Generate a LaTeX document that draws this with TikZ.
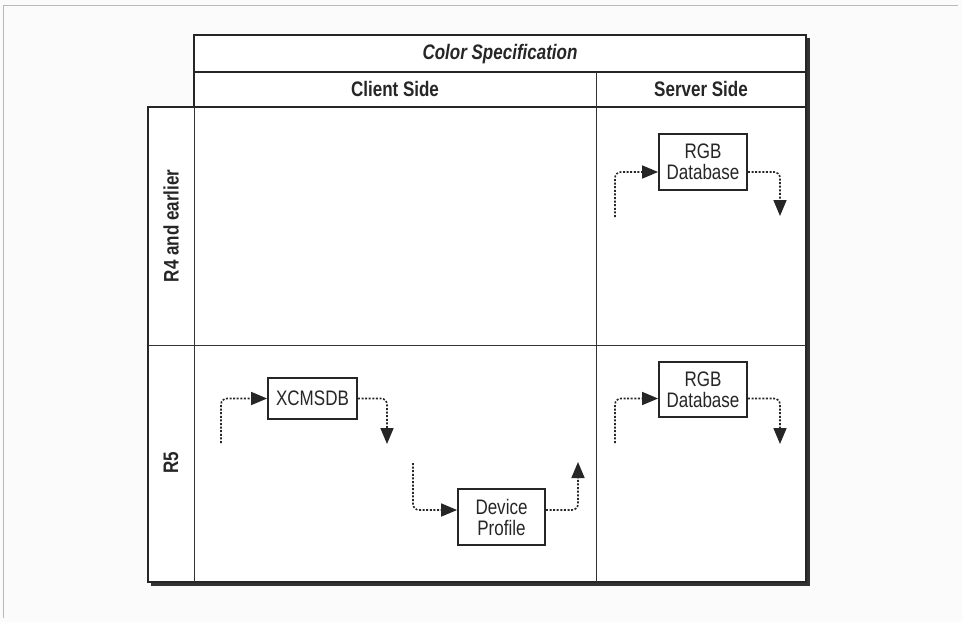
\documentclass[tikz,border=0pt]{standalone}
\usepackage{fontspec}
\setmainfont{Liberation Sans}[FakeStretch=0.81]
\usetikzlibrary{arrows.meta,calc}
\begin{document}
\begin{tikzpicture}[x=1pt,y=-1pt,
  tframe/.style={line width=2pt, black!85},
  tline/.style={line width=0.9pt, black!80},
  hline/.style={line width=1.8pt, black!85},
  flow/.style={line width=1.6pt, black!85, dash pattern=on 2pt off 1.6pt, rounded corners=6pt, -{Triangle[length=16pt,width=13pt]}},
  box/.style={draw=black!85, line width=1.8pt, fill=white, align=center, inner sep=0pt, font=\fontsize{21}{21}\selectfont, text=black!85},
  hdr/.style={font=\bfseries\fontsize{21}{22}\selectfont, text=black!85},
  ihdr/.style={font=\bfseries\itshape\fontsize{21}{22}\selectfont, text=black!85}
]
\fill[gray!3] (0,0) rectangle (962,622);
\useasboundingbox (0,0) rectangle (962,622);
\draw[gray!55, line width=0.7pt] (3,618) -- (3,5) -- (958,5);

% table body
\fill[white] (194,35) rectangle (806,582);
\fill[white] (148,107) rectangle (194,582);
% shadow
\draw[line width=3.5pt, black!80] (808.5,38) -- (808.5,584.5) -- (151,584.5);
% outline
\draw[tframe] (194,35) -- (806,35) -- (806,582) -- (148,582) -- (148,107) -- (194,107) -- cycle;
% header separators
\draw[hline] (194,72) -- (806,72);
\draw[hline] (194,107) -- (806,107);
% inner lines
\draw[tline] (596,72) -- (596,582);
\draw[tline] (194,107) -- (194,582);
\draw[tline] (148,345) -- (806,345);

% header texts
\node[ihdr] (cs) at (500,54) {Color Specification};
\node[hdr] (client) at (395,89) {Client Side};
\node[hdr] (server) at (701,89) {Server Side};
\node[hdr, rotate=90] (r4) at (171,226) {R4 and earlier};
\node[hdr, rotate=90] (r5) at (171,463) {R5};

% boxes
\node[box, minimum width=88pt, minimum height=56pt] (rgb1) at (703,162) {RGB\\Database};
\node[box, minimum width=88pt, minimum height=55pt] (rgb2) at (703,389.5) {RGB\\Database};
\node[box, minimum width=89pt, minimum height=41pt] (xcms) at (312.5,398.5) {XCMSDB};
\node[box, minimum width=87pt, minimum height=56pt] (dev) at (501.5,517) {Device\\Profile};

% connector ends
\coordinate (r1s) at (615,217);
\coordinate (r1e) at (780,216);
\coordinate (r2s) at (615,443);
\coordinate (r2e) at (780,444);
\coordinate (xs) at (221,443);
\coordinate (xe) at (387,444);
\coordinate (ds) at (413,463);
\coordinate (de) at (578,462);

\draw[flow] (r1s) |- ($(rgb1.west)+(0,10)$);
\draw[flow] ($(rgb1.east)+(0,10)$) -| (r1e);
\draw[flow] (r2s) |- ($(rgb2.west)+(0,9)$);
\draw[flow] ($(rgb2.east)+(0,9)$) -| (r2e);
\draw[flow] (xs) |- (xcms.west);
\draw[flow] (xcms.east) -| (xe);
\draw[flow] (ds) |- ($(dev.west)+(0,-7)$);
\draw[flow] ($(dev.east)+(0,-7)$) -| (de);
\end{tikzpicture}
\end{document}
